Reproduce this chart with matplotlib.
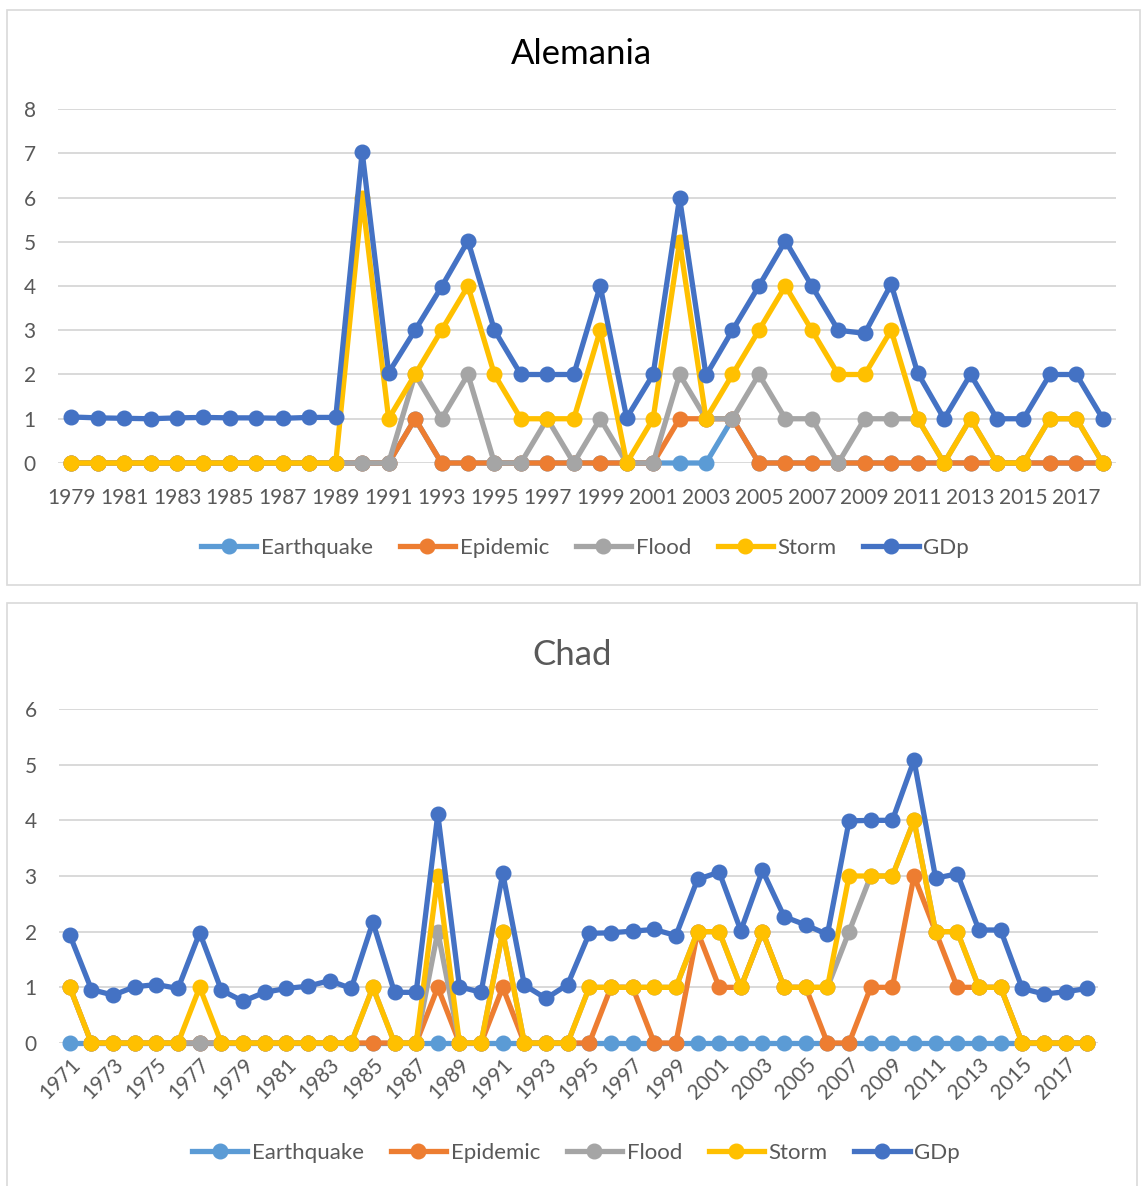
import matplotlib
matplotlib.use("Agg")
import matplotlib.pyplot as plt
from matplotlib.patches import Rectangle

plt.rcParams['font.family'] = ['Lato', 'DejaVu Sans']

names = ["Earthquake", "Epidemic", "Flood", "Storm", "GDp"]
colors = ["#5B9BD5", "#ED7D31", "#A5A5A5", "#FFC000", "#4472C4"]

# Alemania, 1979-2018 (stacked line values)
years_de = list(range(1979, 2019))
de_earthquake = [0, 0, 0, 0, 0, 0, 0, 0, 0, 0, 0, 0, 0, 1, 0, 0, 0, 0, 0, 0,
                 0, 0, 0, 0, 0, 1, 0, 0, 0, 0, 0, 0, 0, 0, 0, 0, 0, 0, 0, 0]
de_epidemic = [0, 0, 0, 0, 0, 0, 0, 0, 0, 0, 0, 0, 0, 1, 0, 0, 0, 0, 0, 0,
               0, 0, 0, 1, 1, 1, 0, 0, 0, 0, 0, 0, 0, 0, 0, 0, 0, 0, 0, 0]
de_flood = [0, 0, 0, 0, 0, 0, 0, 0, 0, 0, 0, 0, 0, 2, 1, 2, 0, 0, 1, 0,
            1, 0, 0, 2, 1, 1, 2, 1, 1, 0, 1, 1, 1, 0, 1, 0, 0, 1, 1, 0]
de_storm = [0, 0, 0, 0, 0, 0, 0, 0, 0, 0, 0, 6, 1, 2, 3, 4, 2, 1, 1, 1,
            3, 0, 1, 5, 1, 2, 3, 4, 3, 2, 2, 3, 1, 0, 1, 0, 0, 1, 1, 0]
de_gdp = [1.04, 1.02, 1.01, 1.0, 1.02, 1.03, 1.02, 1.02, 1.01, 1.03,
          1.03, 7.03, 2.04, 3.0, 3.98, 5.02, 3.0, 2.0, 2.0, 2.0,
          4.0, 1.02, 2.0, 5.99, 1.98, 3.0, 4.0, 5.02, 4.0, 3.0,
          2.93, 4.04, 2.04, 1.0, 2.0, 1.0, 1.0, 2.0, 2.0, 1.0]

# Chad, 1971-2018 (stacked line values)
years_td = list(range(1971, 2019))
td_earthquake = [0, 0, 0, 0, 0, 0, 0, 0, 0, 0, 0, 0, 0, 0, 0, 0, 0, 0, 0, 0, 0, 0, 0, 0,
                 0, 0, 0, 0, 0, 0, 0, 0, 0, 0, 0, 0, 0, 0, 0, 0, 0, 0, 0, 0, 0, 0, 0, 0]
td_epidemic = [1, 0, 0, 0, 0, 0, 0, 0, 0, 0, 0, 0, 0, 0, 0, 0, 0, 1, 0, 0, 1, 0, 0, 0,
               0, 1, 1, 0, 0, 2, 1, 1, 2, 1, 1, 0, 0, 1, 1, 3, 2, 1, 1, 1, 0, 0, 0, 0]
td_flood = [1, 0, 0, 0, 0, 0, 0, 0, 0, 0, 0, 0, 0, 0, 1, 0, 0, 2, 0, 0, 2, 0, 0, 0,
            1, 1, 1, 1, 1, 2, 2, 1, 2, 1, 1, 1, 2, 3, 3, 4, 2, 2, 1, 1, 0, 0, 0, 0]
td_storm = [1, 0, 0, 0, 0, 0, 1, 0, 0, 0, 0, 0, 0, 0, 1, 0, 0, 3, 0, 0, 2, 0, 0, 0,
            1, 1, 1, 1, 1, 2, 2, 1, 2, 1, 1, 1, 3, 3, 3, 4, 2, 2, 1, 1, 0, 0, 0, 0]
td_gdp = [1.94, 0.96, 0.86, 1.01, 1.05, 0.98, 1.98, 0.95, 0.75, 0.91,
          0.98, 1.02, 1.12, 0.98, 2.17, 0.91, 0.91, 4.11, 1.01, 0.91,
          3.05, 1.04, 0.80, 1.05, 1.97, 1.98, 2.01, 2.04, 1.93, 2.94,
          3.07, 2.02, 3.10, 2.27, 2.12, 1.95, 3.99, 4.0, 4.0, 5.08,
          2.96, 3.04, 2.03, 2.03, 0.98, 0.88, 0.92, 0.98]

W, H = 1144, 1186
fig = plt.figure(figsize=(W / 100, H / 100), dpi=100)

# chart frames
fig.patches.append(Rectangle((7 / W, 1 - 585 / H), 1133 / W, 575 / H,
                             transform=fig.transFigure, fill=False,
                             edgecolor="#D9D9D9", lw=1.2))
fig.patches.append(Rectangle((7 / W, -0.01), 1130 / W, 1 - 603 / H + 0.01,
                             transform=fig.transFigure, fill=False,
                             edgecolor="#D9D9D9", lw=1.2))


def panel(rect, years, series, ymax, title, title_xy, title_color, rotate, leg_xy):
    ax = fig.add_axes(rect)
    x = list(range(len(years)))
    handles = []
    for i, (vals, name, c) in enumerate(zip(series, names, colors)):
        h, = ax.plot(x, vals, color=c, lw=3.8, marker='o', ms=10.5,
                     label=name, clip_on=False, zorder=3 + i,
                     solid_joinstyle='round')
        handles.append(h)
    ax.set_xlim(-0.5, len(years) - 0.5)
    ax.set_ylim(0, ymax)
    ax.set_yticks(range(ymax + 1))
    ax.set_xticks(x[::2])
    ax.set_xticklabels([str(y) for y in years[::2]])
    for s in ax.spines.values():
        s.set_visible(False)
    ax.grid(axis='y', color="#D9D9D9", lw=1.4)
    ax.set_axisbelow(True)
    ax.tick_params(length=0, labelsize=15, labelcolor="#595959")
    ax.tick_params(axis='y', pad=16)
    if rotate:
        ax.tick_params(axis='x', pad=8)
        for lab in ax.get_xticklabels():
            lab.set_rotation(45)
            lab.set_ha('right')
            lab.set_rotation_mode('anchor')
    else:
        ax.tick_params(axis='x', pad=18)
    fig.text(title_xy[0], title_xy[1], title, ha='center',
             va='center', fontsize=25, color=title_color)
    fig.legend(handles=handles, loc='center', bbox_to_anchor=leg_xy,
               ncol=5, frameon=False, fontsize=16, handlelength=2.5,
               handletextpad=0.2, columnspacing=1.2, labelcolor="#595959")
    return ax


panel([58 / W, 1 - 463 / H, 1058 / W, 354 / H], years_de,
      [de_earthquake, de_epidemic, de_flood, de_storm, de_gdp], 8,
      "Alemania", (581 / W, 1 - 54 / H), "#000000", False, (585 / W, 1 - 548 / H))

panel([59 / W, 1 - 1043 / H, 1039 / W, 334 / H], years_td,
      [td_earthquake, td_epidemic, td_flood, td_storm, td_gdp], 6,
      "Chad", (572 / W, 1 - 655 / H), "#595959", True, (576 / W, 1 - 1153 / H))

fig.savefig("out.png", dpi=100)
